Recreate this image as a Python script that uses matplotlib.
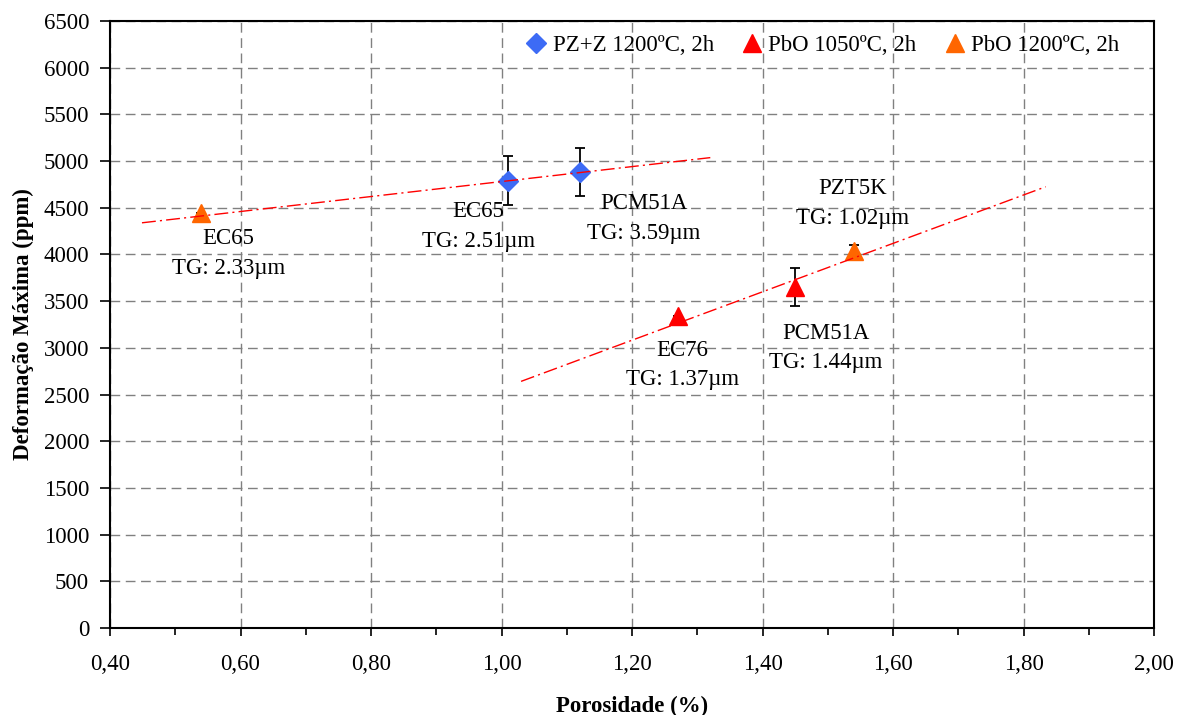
import matplotlib
matplotlib.use("Agg")
import matplotlib.pyplot as plt
from matplotlib.ticker import MultipleLocator, FuncFormatter

plt.rcParams['font.family'] = ['Liberation Serif', 'DejaVu Serif']

# ---- data ----
pzz_x = [1.01, 1.12]
pzz_y = [4790, 4886]
pzz_err = [260, 258]

pbo1050_x = [1.27, 1.45]
pbo1050_y = [3340, 3651]
pbo1050_err = [0, 208]

pbo1200_x = [0.54, 1.54]
pbo1200_y = [4442, 4036]
pbo1200_err = [0, 60]

trend1_x = [0.449, 1.32]
trend1_y = [4339, 5037]
trend2_x = [1.03, 1.834]
trend2_y = [2641, 4725]

labels = ["EC65\nTG: 2.33\u00b5m", "EC65\nTG: 2.51\u00b5m", "PCM51A\nTG: 3.59\u00b5m",
          "PZT5K\nTG: 1.02\u00b5m", "EC76\nTG: 1.37\u00b5m", "PCM51A\nTG: 1.44\u00b5m"]
label_x = [0.5815, 0.9646, 1.2185, 1.5385, 1.277, 1.497]
label_y = [4009, 4298, 4389, 4549, 2817, 2999]

legend_labels = ["PZ+Z 1200\u00baC, 2h", "PbO 1050\u00baC, 2h", "PbO 1200\u00baC, 2h"]

FS = 16.5

# ---- figure ----
fig = plt.figure(figsize=(11.78, 7.15), dpi=100)
ax = fig.add_axes([110/1178, 1-628/715, (1154-110)/1178, (628-21)/715])

ax.set_xlim(0.4, 2.0)
ax.set_ylim(0, 6500)
ax.xaxis.set_major_locator(MultipleLocator(0.2))
ax.xaxis.set_minor_locator(MultipleLocator(0.1))
ax.yaxis.set_major_locator(MultipleLocator(500))
ax.xaxis.set_major_formatter(FuncFormatter(lambda v, p: f"{v:.2f}".replace('.', ',')))

ax.grid(True, which='major', color='#808080', linestyle=(0, (7, 4)), linewidth=1.0)
ax.set_axisbelow(True)
ax.tick_params(axis='both', which='major', labelsize=FS, direction='out', length=6, width=1.2, color='black')
ax.tick_params(axis='x', which='major', pad=13)
ax.tick_params(axis='y', which='major', pad=8, length=7)
ax.tick_params(axis='x', which='minor', direction='out', length=5, width=1.2)
for s in ax.spines.values():
    s.set_linewidth(1.5)

# error bars
ekw = dict(fmt='none', ecolor='black', elinewidth=1.3, capsize=3.5, capthick=1.3, zorder=3)
ax.errorbar(pzz_x, pzz_y, yerr=pzz_err, **ekw)
ax.errorbar(pbo1050_x, pbo1050_y, yerr=pbo1050_err, **ekw)
ax.errorbar(pbo1200_x, pbo1200_y, yerr=pbo1200_err, **ekw)

# markers
h1, = ax.plot(pzz_x, pzz_y, ls='none', marker='D', ms=10, color='#3D6BF5', mec='#3D6BF5', zorder=4, label=legend_labels[0])
h2, = ax.plot(pbo1050_x, pbo1050_y, ls='none', marker='^', ms=13.5, color='#FF0000', mec='#FF0000', zorder=4, label=legend_labels[1])
h3, = ax.plot(pbo1200_x, pbo1200_y, ls='none', marker='^', ms=13.5, color='#FF6600', mec='#FF6600', zorder=4, label=legend_labels[2])

# trend lines
dashdot = (0, (10, 3, 1.5, 3))
ax.plot(trend1_x, trend1_y, color='#FF0000', lw=1.0, ls=dashdot, zorder=5)
ax.plot(trend2_x, trend2_y, color='#FF0000', lw=1.0, ls=dashdot, zorder=5)

for t, x, y in zip(labels, label_x, label_y):
    ax.text(x, y, t, ha='center', va='center', multialignment='center', fontsize=FS, linespacing=1.55, zorder=6)

ax.set_xlabel("Porosidade (%)", fontsize=FS, fontweight='bold', labelpad=14.5)
ax.set_ylabel("Deforma\u00e7\u00e3o M\u00e1xima (ppm)", fontsize=FS, fontweight='bold', labelpad=7)

fig.legend(handles=[h1, h2, h3], loc='center', bbox_to_anchor=(0.6965, 0.937), ncol=3, frameon=False,
           fontsize=FS, handletextpad=0.05, columnspacing=1.03, handlelength=1.3, borderpad=0.2)

fig.savefig("out.png", dpi=100)
